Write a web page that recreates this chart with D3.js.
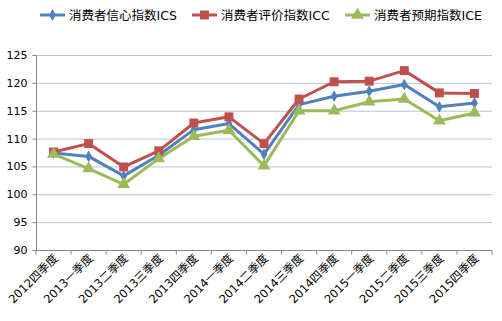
<!DOCTYPE html>
<html><head><meta charset="utf-8">
<script src="https://cdn.jsdelivr.net/npm/d3@7"></script>
<style>body{margin:0;background:#fff;}svg{display:block;}</style>
</head><body><svg id="c" width="502" height="321"></svg>
<script>
const categories = ["2012四季度","2013一季度","2013二季度","2013三季度","2013四季度","2014一季度","2014二季度","2014三季度","2014四季度","2015一季度","2015二季度","2015三季度","2015四季度"];
const seriesNames = ["消费者信心指数ICS","消费者评价指数ICC","消费者预期指数ICE"];
const ics = [107.4,106.8,103.3,107.0,111.6,112.7,107.2,116.1,117.6,118.5,119.7,115.7,116.4];
const icc = [107.6,109.1,104.9,107.8,112.8,113.9,109.1,117.1,120.2,120.3,122.2,118.2,118.1];
const ice = [107.2,104.6,101.8,106.4,110.4,111.5,105.1,115.0,115.0,116.6,117.1,113.2,114.6];
const yTicks = [90,95,100,105,110,115,120,125];
const colors = ["#4f81bd","#c0504d","#9bbb59"];
const symbols = [d3.symbolDiamond, d3.symbolSquare, d3.symbolTriangle];
const symSizes = [40, 80, 70];

const svg = d3.select("#c");
const font = "'DejaVu Sans','Noto Sans CJK SC',sans-serif";
const m = {l:36, r:10, t:55, b:71};
const W = 502, H = 321;
const x = d3.scaleBand().domain(categories).range([m.l, W - m.r]);
const y = d3.scaleLinear().domain([90,125]).range([H - m.b, m.t]);

// gridlines
svg.append("g").selectAll("line").data(yTicks.slice(1)).join("line")
  .attr("x1", m.l).attr("x2", W - m.r)
  .attr("y1", d => y(d)+0.5).attr("y2", d => y(d)+0.5)
  .attr("stroke", "#b7c4d6").attr("stroke-width", 1);

// y axis
const ya = svg.append("g").attr("transform", `translate(${m.l+0.5},0)`)
  .call(d3.axisLeft(y).tickValues(yTicks).tickSize(4).tickPadding(5));
ya.selectAll("path,line").attr("stroke", "#868686");
ya.selectAll("text").attr("font-family", font).attr("font-size", 11).attr("fill", "#000");
ya.select(".domain").attr("d", `M-4,${y(125)+0.5}H0V${y(90)+0.5}H-4`);

// x axis
const xa = svg.append("g").attr("transform", `translate(0,${y(90)+0.5})`)
  .call(d3.axisBottom(x).tickSize(4).tickFormat(""));
xa.selectAll("path,line").attr("stroke", "#868686");
xa.selectAll(".tick line").attr("transform", `translate(${-x.bandwidth()/2},0)`);
xa.append("line").attr("x1", W-m.r).attr("x2", W-m.r).attr("y1", 0).attr("y2", 4).attr("stroke", "#868686");
xa.select(".domain").attr("d", `M${m.l},0H${W-m.r}`);
svg.append("g").selectAll("text").data(categories).join("text")
  .attr("transform", d => `translate(${x(d)+x.bandwidth()/2+5},${y(90)+9}) rotate(-45)`)
  .attr("text-anchor", "end").attr("font-family", font).attr("font-size", 11.5).attr("fill", "#000")
  .text(d => d);

// series
const data = [ics, icc, ice];
const line = d3.line().x((d,i) => x(categories[i]) + x.bandwidth()/2).y(d => y(d));
data.forEach((s, k) => {
  svg.append("path").datum(s).attr("d", line).attr("fill", "none")
    .attr("stroke", colors[k]).attr("stroke-width", 3).attr("stroke-linejoin", "round");
});
data.forEach((s, k) => {
  svg.append("g").selectAll("path").data(s).join("path")
    .attr("transform", (d,i) => `translate(${x(categories[i]) + x.bandwidth()/2},${y(d)})`)
    .attr("d", d3.symbol().type(symbols[k]).size(symSizes[k]))
    .attr("fill", colors[k]);
});

// legend
const legX = [40, 192, 345];
const lg = svg.append("g");
seriesNames.forEach((n, k) => {
  const g = lg.append("g").attr("transform", `translate(${legX[k]},15)`);
  g.append("line").attr("x1", 0).attr("x2", 25).attr("y1", 0).attr("y2", 0)
    .attr("stroke", colors[k]).attr("stroke-width", 3);
  g.append("path").attr("transform", "translate(12.5,0)")
    .attr("d", d3.symbol().type(symbols[k]).size(symSizes[k])).attr("fill", colors[k]);
  g.append("text").attr("x", 29).attr("y", 4.5).attr("font-family", font)
    .attr("font-size", 12.5).attr("fill", "#000").text(n);
});
</script></body></html>
